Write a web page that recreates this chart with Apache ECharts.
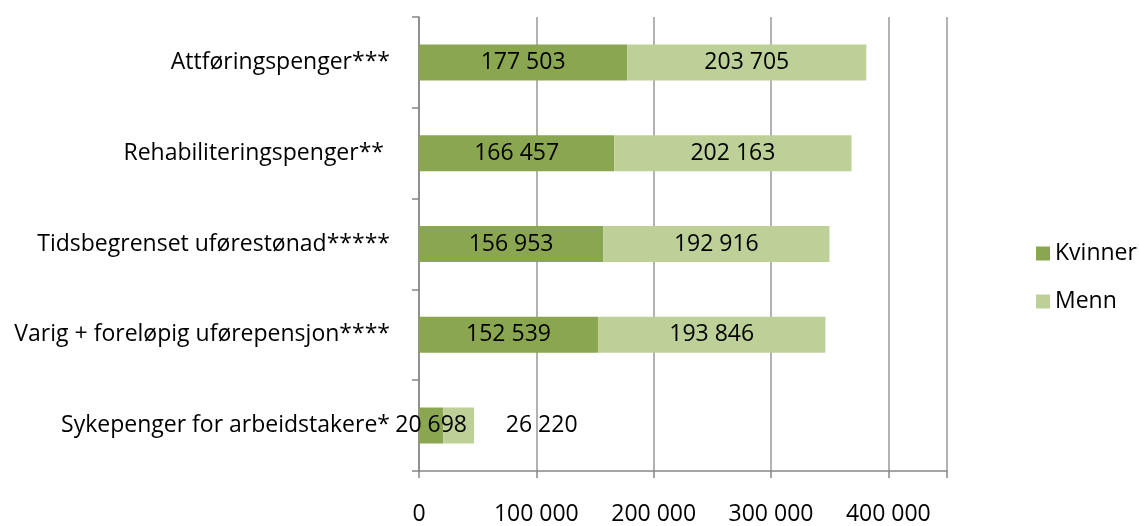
<!DOCTYPE html>
<html>
<head>
<meta charset="utf-8">
<script src="https://cdn.jsdelivr.net/npm/echarts@6/dist/echarts.min.js"></script>
<style>
  html, body { margin: 0; padding: 0; background: #fff; }
  #chart { width: 1139px; height: 526px; }
</style>
</head>
<body>
<div id="chart"></div>
<script>
// categories from bottom to top
const categories = [
  'Sykepenger for arbeidstakere*',
  'Varig + foreløpig uførepensjon****',
  'Tidsbegrenset uførestønad*****',
  'Rehabiliteringspenger** ',
  'Attføringspenger***'
];
const kvinner = [20698, 152539, 156953, 166457, 177503];
const menn = [26220, 193846, 192916, 202163, 203705];
const xTicks = [0, 100000, 200000, 300000, 400000];

const fontFamily = '"Open Sans", Lato, sans-serif';
const fontSize = 23;

function fmt(v) {
  return String(v).replace(/\B(?=(\d{3})+(?!\d))/g, ' ');
}

const chart = echarts.init(document.getElementById('chart'));

chart.setOption({
  animation: false,
  textStyle: { fontFamily: fontFamily },
  grid: {
    left: 419,
    right: 192,
    top: 17,
    bottom: 50,
    containLabel: false
  },
  legend: {
    orient: 'vertical',
    left: 1031,
    top: 237,
    itemWidth: 14,
    itemHeight: 14,
    itemGap: 25,
    icon: 'rect',
    textStyle: { fontSize: fontSize, lineHeight: 23, color: '#000', fontFamily: fontFamily },
    data: ['Kvinner', 'Menn']
  },
  xAxis: {
    type: 'value',
    min: 0,
    max: 450000,
    interval: 100000,
    axisLine: { show: true, lineStyle: { color: '#868686', width: 1.5 } },
    axisTick: { show: true, length: 7, lineStyle: { color: '#868686', width: 1.5 } },
    splitLine: { show: true, lineStyle: { color: '#999', width: 1.5 } },
    axisLabel: {
      margin: 32,
      fontSize: fontSize,
      color: '#000',
      fontFamily: fontFamily,
      formatter: function (v) { return xTicks.indexOf(v) >= 0 ? fmt(v) : ''; }
    }
  },
  yAxis: {
    type: 'category',
    data: categories,
    axisLine: { show: true, lineStyle: { color: '#868686', width: 1.5 } },
    axisTick: { show: true, length: 7, lineStyle: { color: '#868686', width: 1.5 } },
    axisLabel: {
      margin: 29,
      fontSize: fontSize,
      color: '#000',
      fontFamily: fontFamily
    }
  },
  series: [
    {
      name: 'Kvinner',
      type: 'bar',
      stack: 'total',
      barWidth: 36,
      itemStyle: { color: '#8ba650' },
      label: {
        show: true,
        position: 'inside',
        color: '#000',
        fontSize: fontSize,
        fontFamily: fontFamily,
        formatter: function (p) { return fmt(p.value); }
      },
      data: kvinner
    },
    {
      name: 'Menn',
      type: 'bar',
      stack: 'total',
      barWidth: 36,
      itemStyle: { color: '#bcd098' },
      label: {
        show: true,
        position: 'inside',
        color: '#000',
        fontSize: fontSize,
        fontFamily: fontFamily,
        formatter: function (p) { return fmt(p.value); }
      },
      // the small bar's label sits to the right of the bar in the original
      data: menn.map(function (v, i) {
        return i === 0 ? { value: v, label: { offset: [83, 0] } } : v;
      })
    }
  ]
});
</script>
</body>
</html>
